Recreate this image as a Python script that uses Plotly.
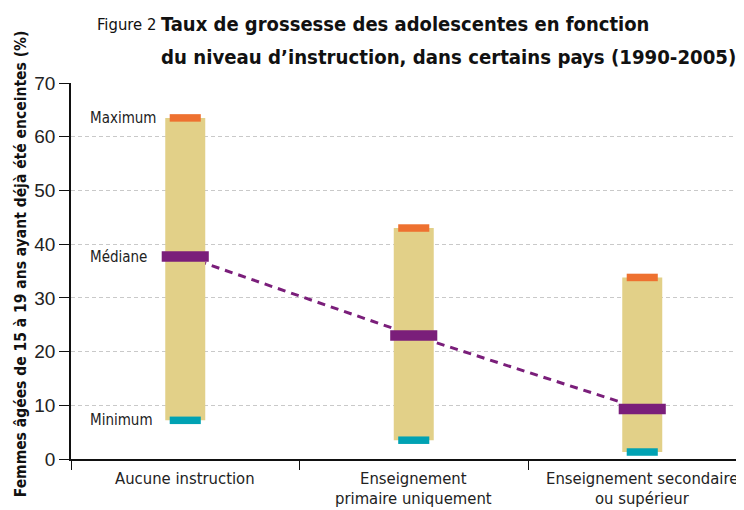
import plotly.graph_objects as go

categories = ["Aucune instruction", "Enseignement\nprimaire uniquement", "Enseignement secondaire\nou supérieur"]
maximum = [63.5, 43.0, 33.8]
median = [37.7, 23.0, 9.3]
minimum = [7.2, 3.5, 1.3]
y_ticks = [0, 10, 20, 30, 40, 50, 60, 70]

TAN = "#E2D088"
ORANGE = "#EE7130"
TEAL = "#00A2B3"
PURPLE = "#7A1E7A"
FONT = "DejaVu Sans Condensed, sans-serif"

# page body has an 8px margin: figure placed at (8, 8) in the window
OFF = 8
W, H = 744 - OFF, 510 - OFF
L, R, T, B = 71 - OFF, 0, 82.5 - OFF, 51
PW, PH = W - L - R, H - T - B
UNIT = 228.5  # px per category

def px(x):  # reference window x -> paper
    return (x - OFF - L) / PW

def py(y):  # reference window y -> paper
    return 1 - (y - OFF - T) / PH

xs = list(range(len(categories)))
fig = go.Figure()

# dashed median line (below bars)
fig.add_trace(go.Scatter(x=xs, y=median, mode="lines",
                         line=dict(color=PURPLE, width=3, dash="8px,6px"),
                         hoverinfo="skip", showlegend=False))
# range bars
for i in xs:
    fig.add_trace(go.Scatter(x=[i, i], y=[minimum[i], maximum[i]], mode="lines",
                             line=dict(color=TAN, width=40), showlegend=False))
# markers
hw_small, hw_med = 0.068, 0.103
for i in xs:
    fig.add_trace(go.Scatter(x=[i - hw_small, i + hw_small], y=[maximum[i]] * 2, mode="lines",
                             line=dict(color=ORANGE, width=7.5), showlegend=False))
    fig.add_trace(go.Scatter(x=[i - hw_small, i + hw_small], y=[minimum[i]] * 2, mode="lines",
                             line=dict(color=TEAL, width=7.5), showlegend=False))
    fig.add_trace(go.Scatter(x=[i - hw_med, i + hw_med], y=[median[i]] * 2, mode="lines",
                             line=dict(color=PURPLE, width=10.5), showlegend=False))

ann = []
# side labels
for txt, val in [("Maximum", maximum[0]), ("Médiane", median[0]), ("Minimum", minimum[0])]:
    ann.append(dict(text=txt, x=-0.5 + (88 - 71) / UNIT, y=val, xref="x", yref="y",
                    xanchor="left", yanchor="middle", showarrow=False,
                    font=dict(family=FONT, size=15, color="#222")))
# category labels
for i, c in enumerate(categories):
    for k, line in enumerate(c.split("\n")):
        ann.append(dict(text=line, x=i, y=py(479 + 20 * k), xref="x", yref="paper",
                        xanchor="center", yanchor="middle", showarrow=False,
                        font=dict(family=FONT, size=16.5, color="#222")))
# title
ann.append(dict(text="Figure 2", x=px(95), y=py(23.5), xref="paper", yref="paper",
                xanchor="left", yanchor="middle", showarrow=False,
                font=dict(family=FONT, size=16.5, color="#111")))
ann.append(dict(text="<b>Taux de grossesse des adolescentes en fonction</b>", x=px(159), y=py(23),
                xref="paper", yref="paper", xanchor="left", yanchor="middle", showarrow=False,
                font=dict(family=FONT, size=20, color="#111")))
ann.append(dict(text="<b>du niveau d’instruction, dans certains pays (1990-2005)</b>", x=px(159), y=py(56),
                xref="paper", yref="paper", xanchor="left", yanchor="middle", showarrow=False,
                font=dict(family=FONT, size=20.2, color="#111")))
# y-axis title
ann.append(dict(text="<b>Femmes âgées de 15 à 19 ans ayant déjà été enceintes (%)</b>", x=px(21), y=py(264),
                xref="paper", yref="paper", xanchor="center", yanchor="middle", textangle=-90,
                showarrow=False, font=dict(family=FONT, size=15.5, color="#111")))

fig.update_layout(
    width=W, height=H, margin=dict(l=L, r=R, t=T, b=B),
    plot_bgcolor="white", paper_bgcolor="white", showlegend=False,
    annotations=ann,
    xaxis=dict(range=[-0.5, -0.5 + PW / UNIT], showgrid=False, zeroline=False,
               showline=True, linecolor="#111", linewidth=1.5,
               tickvals=xs, ticktext=[""] * len(xs), ticks="",
               minor=dict(tickvals=[-0.5, 0.5, 1.5], ticks="outside", ticklen=9,
                          tickcolor="#111", tickwidth=1.2, showgrid=False)),
    yaxis=dict(range=[0, 70], tickvals=y_ticks, showgrid=True, gridcolor="#c9c9c9",
               griddash="4px,3px", gridwidth=1, zeroline=False,
               showline=True, linecolor="#111", linewidth=1.5,
               ticks="outside", ticklen=10, tickcolor="#111", tickwidth=1.2,
               tickfont=dict(family="Liberation Sans, Arial, sans-serif", size=19, color="#222")),
)

fig.write_html("out.html")
